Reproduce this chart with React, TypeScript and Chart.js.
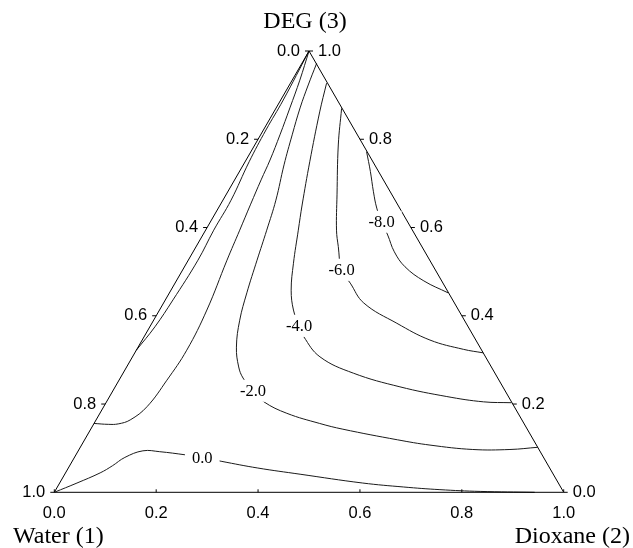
import React, { useEffect, useRef } from "react";
import { Chart, registerables } from "chart.js";

Chart.register(...registerables);

// Axis ticks (mole fractions)
const tickValues = [0, 0.2, 0.4, 0.6, 0.8, 1.0];
const tickLabels = ["0.0", "0.2", "0.4", "0.6", "0.8", "1.0"];
const componentNames = ["Water (1)", "Dioxane (2)", "DEG (3)"];

// Contours: each point is [x2 (Dioxane), x3 (DEG)]
const contour0 = [
  [0, 0], [0.034, 0.021], [0.068, 0.044], [0.084, 0.06], [0.099, 0.079],
  [0.127, 0.094], [0.161, 0.092], [0.214, 0.085], [0.251, 0.079], [0.294, 0.07],
  [0.372, 0.055], [0.462, 0.041], [0.595, 0.021], [0.68, 0.012], [0.754, 0.006],
  [0.835, 0.002], [0.943, 0],
];
const contourM2 = [
  [0.029, 0.972], [0.037, 0.923], [0.047, 0.871], [0.062, 0.81], [0.08, 0.742],
  [0.104, 0.662], [0.12, 0.594], [0.135, 0.526], [0.152, 0.452], [0.169, 0.39],
  [0.193, 0.329], [0.22, 0.284], [0.241, 0.259], [0.275, 0.23], [0.309, 0.205],
  [0.367, 0.179], [0.443, 0.156], [0.495, 0.143], [0.614, 0.119], [0.684, 0.107],
  [0.773, 0.097], [0.846, 0.097], [0.898, 0.102],
];
const contourM4 = [
  [0.071, 0.927], [0.09, 0.862], [0.127, 0.749], [0.161, 0.651], [0.182, 0.594],
  [0.21, 0.519], [0.236, 0.458], [0.263, 0.413], [0.292, 0.377], [0.313, 0.353],
  [0.368, 0.307], [0.452, 0.27], [0.559, 0.239], [0.662, 0.217], [0.74, 0.205],
  [0.796, 0.203],
];
const contourM6 = [
  [0.129, 0.87], [0.164, 0.787], [0.218, 0.674], [0.257, 0.594], [0.279, 0.557],
  [0.312, 0.504], [0.344, 0.474], [0.393, 0.429], [0.481, 0.383], [0.565, 0.345],
  [0.641, 0.324], [0.684, 0.316],
];
const contourM8 = [
  [0.227, 0.772], [0.257, 0.727], [0.286, 0.681], [0.311, 0.644], [0.336, 0.613],
  [0.363, 0.583], [0.395, 0.545], [0.433, 0.511], [0.486, 0.479], [0.547, 0.452],
];
const contourP2 = [
  [0, 1], [0.015, 0.934], [0.027, 0.871], [0.038, 0.81], [0.047, 0.753],
  [0.052, 0.708], [0.059, 0.653], [0.067, 0.594], [0.076, 0.526], [0.093, 0.413],
  [0.099, 0.322], [0.094, 0.254], [0.085, 0.194], [0.067, 0.164], [0.048, 0.155],
  [0.029, 0.154], [0, 0.156],
];
const contourP4 = [
  [0, 1], [0.005, 0.889], [0.005, 0.821], [0.008, 0.749], [0.016, 0.662],
  [0.016, 0.594], [0.019, 0.526], [0.015, 0.436], [0.01, 0.375], [0, 0.322],
];

const contourLabels = ["0.0", "-2.0", "-4.0", "-6.0", "-8.0"];
const contourLabelAt = [
  [0.251, 0.079], [0.275, 0.23], [0.292, 0.377], [0.312, 0.504], [0.336, 0.613],
];

const SQ = Math.sqrt(3) / 2;
const toXY = (p: number[]) => ({ x: p[0] + p[1] / 2, y: p[1] * SQ });

const ternaryPlugin = {
  id: "ternaryDecor",
  afterDatasetsDraw(chart: any) {
    const ctx = chart.ctx;
    const sx = chart.scales.x;
    const sy = chart.scales.y;
    const px = (p: number[]) => {
      const q = toXY(p);
      return [sx.getPixelForValue(q.x), sy.getPixelForValue(q.y)];
    };
    ctx.save();
    ctx.strokeStyle = "#000";
    ctx.lineWidth = 1;
    ctx.fillStyle = "#000";
    ctx.font = '16.5px "Liberation Sans", Arial, sans-serif';
    ctx.textBaseline = "middle";
    tickValues.forEach((v, i) => {
      // left axis: Water fraction (x1), 0 at apex, 1 at bottom-left
      const [lx, ly] = px([0, 1 - v]);
      ctx.beginPath();
      ctx.moveTo(lx - 4, ly);
      ctx.lineTo(lx, ly);
      ctx.stroke();
      ctx.textAlign = "right";
      ctx.fillText(tickLabels[i], lx - 9, ly);
      // right axis: DEG fraction (x3), 0 at bottom-right, 1 at apex
      const [rx, ry] = px([1 - v, v]);
      ctx.beginPath();
      ctx.moveTo(rx, ry);
      ctx.lineTo(rx + 4, ry);
      ctx.stroke();
      ctx.textAlign = "left";
      ctx.fillText(tickLabels[i], rx + 9, ry);
      // bottom axis: Dioxane fraction (x2)
      const [bx, by] = px([v, 0]);
      ctx.beginPath();
      ctx.moveTo(bx, by);
      ctx.lineTo(bx, by - 3);
      ctx.stroke();
      ctx.textAlign = "center";
      ctx.fillText(tickLabels[i], bx, by + 21);
    });

    // contour labels with white boxes
    ctx.font = '16.5px "Liberation Serif", "Times New Roman", serif';
    ctx.textAlign = "center";
    contourLabels.forEach((t, i) => {
      const [cx, cy] = px(contourLabelAt[i]);
      const w = ctx.measureText(t).width + 14;
      ctx.fillStyle = "#fff";
      ctx.fillRect(cx - w / 2, cy - 11, w, 22);
      ctx.fillStyle = "#000";
      ctx.fillText(t, cx, cy + 1);
    });

    // component names
    ctx.font = '24px "Liberation Serif", "Times New Roman", serif';
    ctx.textAlign = "left";
    ctx.fillText(componentNames[0], 13, 537);
    ctx.textAlign = "right";
    ctx.fillText(componentNames[1], 630, 537);
    ctx.textAlign = "center";
    const [ax] = px([0, 1]);
    ctx.fillText(componentNames[2], ax - 4, 22);
    ctx.restore();
  },
};

export default function App() {
  const ref = useRef<HTMLCanvasElement | null>(null);
  useEffect(() => {
    if (!ref.current) return;
    const line = (pts: number[][], tension = 0.4, color = "#1a1a1a") => ({
      data: pts.map(toXY),
      showLine: true,
      borderColor: color,
      borderWidth: 1,
      pointRadius: 0,
      tension,
      fill: false,
      clip: false,
    });
    const chart = new Chart(ref.current, {
      type: "scatter",
      data: {
        datasets: [
          line([[0, 0], [1, 0], [0, 1], [0, 0]], 0, "#000"),
          line(contour0),
          line(contourM2),
          line(contourM4),
          line(contourM6),
          line(contourM8),
          line(contourP2),
          line(contourP4),
        ] as any,
      },
      options: {
        responsive: false,
        animation: false,
        devicePixelRatio: 1,
        layout: { padding: { left: 54.3, right: 69.3, top: 51, bottom: 55.7 } },
        scales: {
          x: { type: "linear", min: 0, max: 1, display: false },
          y: { type: "linear", min: 0, max: SQ, display: false },
        },
        plugins: { legend: { display: false }, tooltip: { enabled: false } },
      },
      plugins: [ternaryPlugin],
    });
    return () => chart.destroy();
  }, []);
  return (
    <div style={{ position: "absolute", left: 0, top: 0, width: 633, height: 548, background: "#fff" }}>
      <canvas ref={ref} width={633} height={548} />
    </div>
  );
}
